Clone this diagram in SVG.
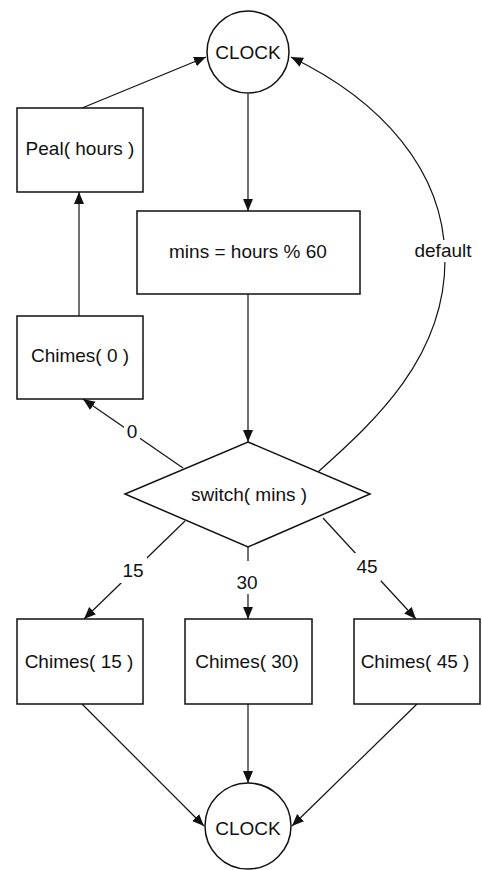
<svg xmlns="http://www.w3.org/2000/svg" width="482" height="870" viewBox="0 0 482 870">
<style>
.node{fill:#fff;stroke:#111;stroke-width:1.5}
.edge{fill:none;stroke:#111;stroke-width:1.2}
text{font-family:"Liberation Sans",Arial,sans-serif;font-size:19px;fill:#111;text-anchor:middle}
.gap{fill:#fff;stroke:none}
</style>
<defs>
<marker id="ah" markerUnits="userSpaceOnUse" markerWidth="14" markerHeight="12" refX="12" refY="5" orient="auto">
<path d="M0,0 L12,5 L0,10 Z" fill="#111"/>
</marker>
</defs>
<g id="connectors">
<line class="edge" x1="82" y1="108" x2="206" y2="57" marker-end="url(#ah)"/>
<line class="edge" x1="248" y1="94" x2="248" y2="211" marker-end="url(#ah)"/>
<line class="edge" x1="79" y1="316" x2="79" y2="192" marker-end="url(#ah)"/>
<line class="edge" x1="248" y1="294" x2="248" y2="442" marker-end="url(#ah)"/>
<line class="edge" x1="183" y1="468" x2="83" y2="399" marker-end="url(#ah)"/>
<path class="edge" d="M318,472 C370,425 445,360 445,260 C445,170 380,100 291,57" marker-end="url(#ah)"/>
<line class="edge" x1="185" y1="521" x2="84" y2="619" marker-end="url(#ah)"/>
<line class="edge" x1="248" y1="547" x2="248" y2="619" marker-end="url(#ah)"/>
<line class="edge" x1="323" y1="518" x2="416" y2="619" marker-end="url(#ah)"/>
<line class="edge" x1="82" y1="704" x2="204" y2="826" marker-end="url(#ah)"/>
<line class="edge" x1="248" y1="704" x2="248" y2="783" marker-end="url(#ah)"/>
<line class="edge" x1="417" y1="704" x2="292" y2="826" marker-end="url(#ah)"/>
<rect class="gap" x="124" y="423" width="16" height="19"/>
<text x="132" y="438">0</text>
<rect class="gap" x="410" y="240" width="68" height="22"/>
<text x="443" y="257">default</text>
<rect class="gap" x="119" y="555" width="28" height="28"/>
<text x="133" y="577">15</text>
<rect class="gap" x="234" y="561" width="28" height="33"/>
<text x="247" y="589">30</text>
<rect class="gap" x="353" y="553" width="28" height="28"/>
<text x="367" y="573">45</text>
</g>
<g id="clock_top">
<circle class="node" cx="248" cy="52" r="41"/>
<text x="248" y="59">CLOCK</text>
</g>
<g id="peal">
<rect class="node" x="17" y="108" width="126" height="84"/>
<text x="80" y="155">Peal( hours )</text>
</g>
<g id="mins">
<rect class="node" x="137" y="211" width="223" height="83"/>
<text x="248" y="258">mins = hours % 60</text>
</g>
<g id="chimes0">
<rect class="node" x="17" y="316" width="126" height="83"/>
<text x="80" y="362">Chimes( 0 )</text>
</g>
<g id="switch">
<polygon class="node" points="248,442 370,494 248,547 125,494"/>
<text x="249" y="501">switch( mins )</text>
</g>
<g id="chimes15">
<rect class="node" x="17" y="619" width="126" height="85"/>
<text x="79" y="668">Chimes( 15 )</text>
</g>
<g id="chimes30">
<rect class="node" x="185" y="619" width="127" height="85"/>
<text x="247" y="668">Chimes( 30)</text>
</g>
<g id="chimes45">
<rect class="node" x="354" y="619" width="126" height="85"/>
<text x="415" y="668">Chimes( 45 )</text>
</g>
<g id="clock_bottom">
<circle class="node" cx="248" cy="826" r="43"/>
<text x="248" y="835">CLOCK</text>
</g>
</svg>
